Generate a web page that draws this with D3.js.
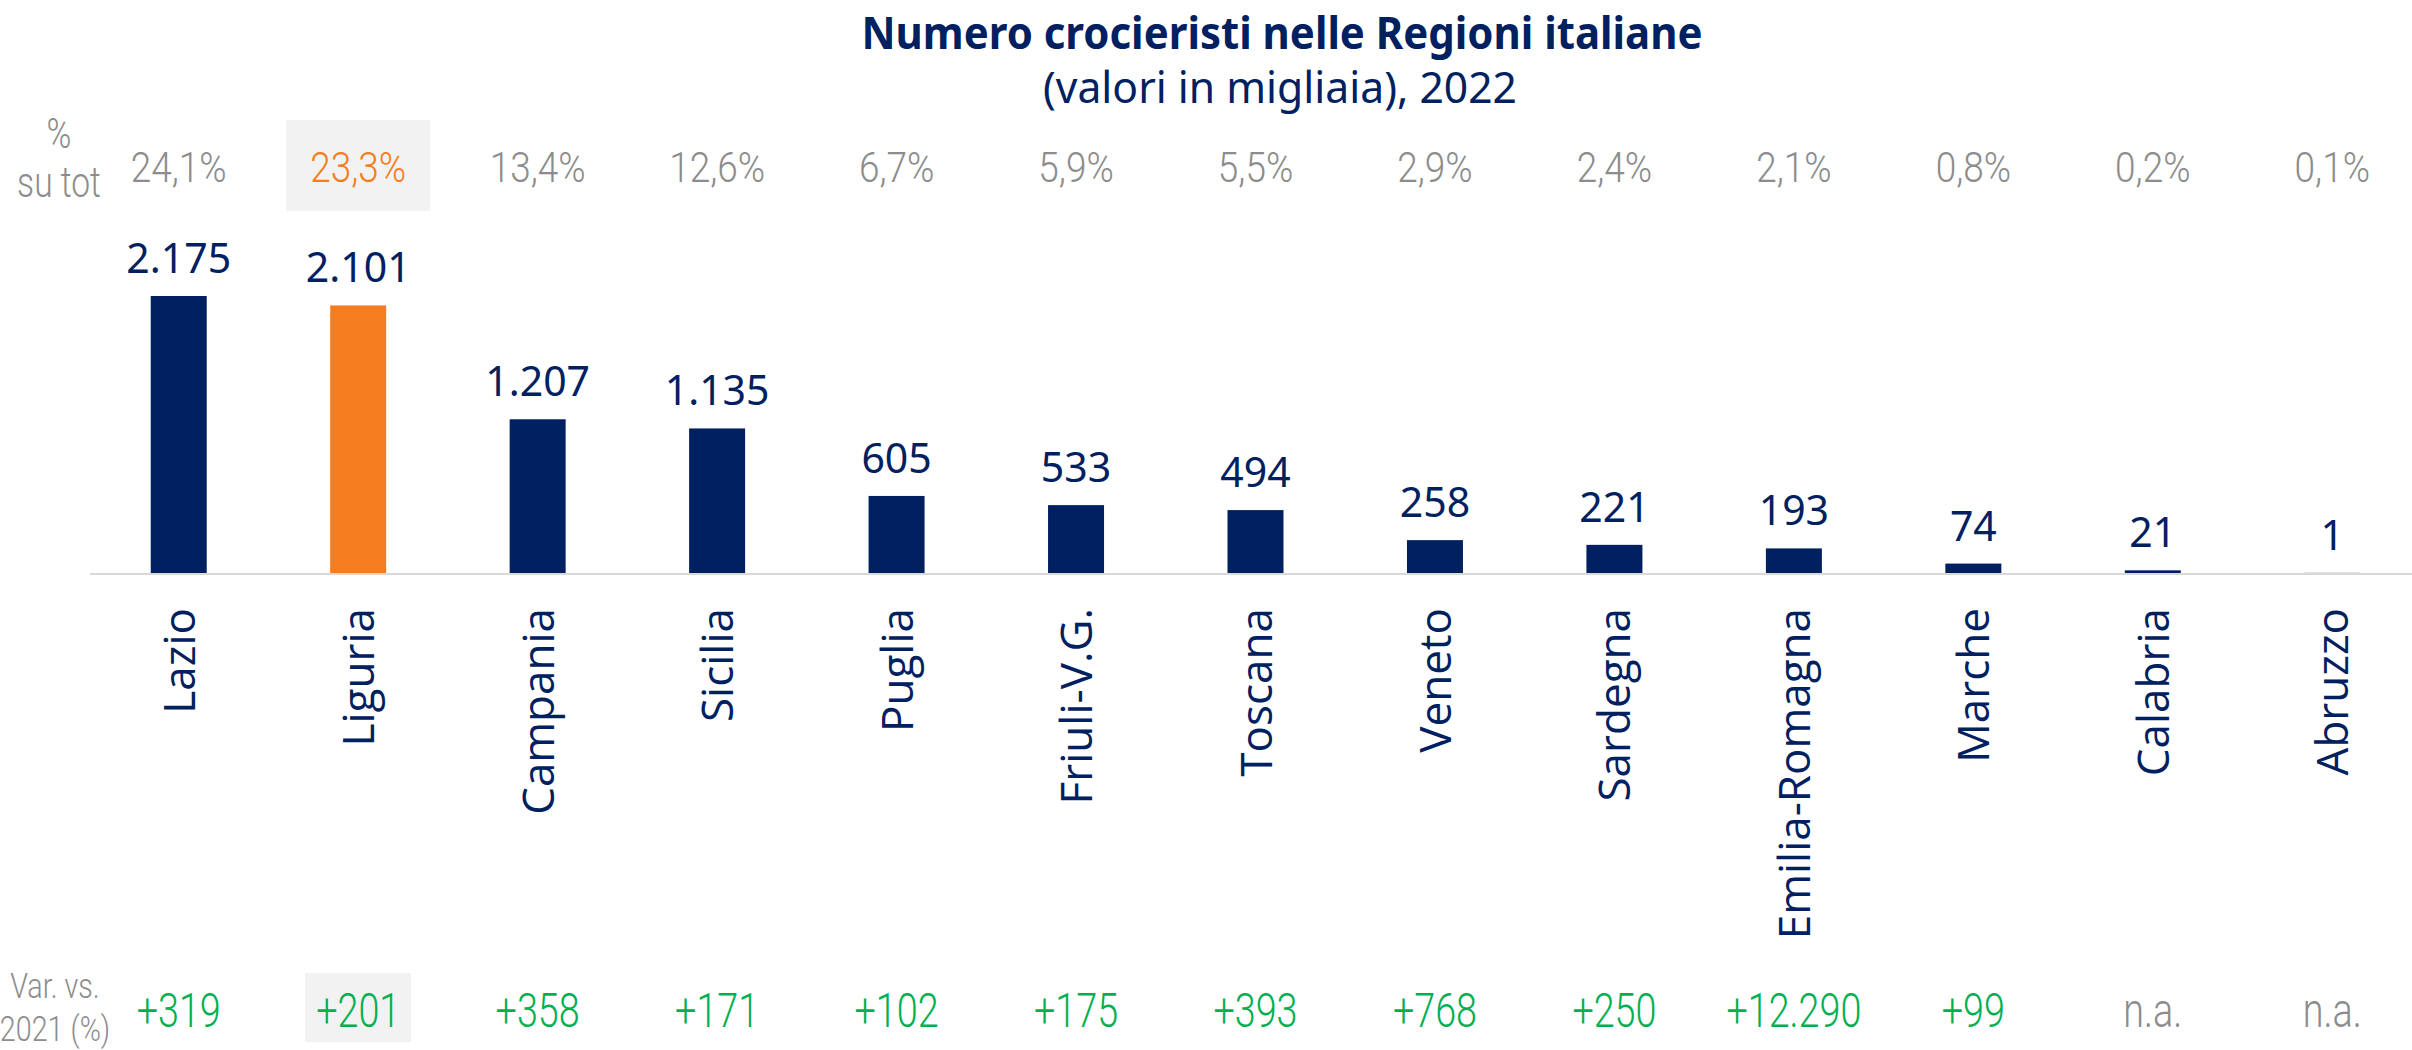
<!DOCTYPE html>
<html>
<head>
<meta charset="utf-8">
<script src="https://cdn.jsdelivr.net/npm/d3@7"></script>
<style>
  body { margin: 0; background: #fff; }
  svg { display: block; }
</style>
</head>
<body>
<svg width="2412" height="1050"></svg>
<script>
const regions = ["Lazio", "Liguria", "Campania", "Sicilia", "Puglia", "Friuli-V.G.", "Toscana",
  "Veneto", "Sardegna", "Emilia-Romagna", "Marche", "Calabria", "Abruzzo"]
const values = [2175, 2101, 1207, 1135, 605, 533, 494, 258, 221, 193, 74, 21, 1]
const shares = ["24,1%", "23,3%", "13,4%", "12,6%", "6,7%", "5,9%", "5,5%", "2,9%", "2,4%", "2,1%", "0,8%", "0,2%", "0,1%"]
const changes = ["+319", "+201", "+358", "+171", "+102", "+175", "+393", "+768", "+250", "+12.290", "+99", "n.a.", "n.a."]
const highlight = "Liguria"

const navy = "#002060", orange = "#f47d20", grey = "#8c8c8c", green = "#00b050"

const it = d3.formatLocale({decimal: ",", thousands: ".", grouping: [3], currency: ["", " €"]})
const fmt = it.format(",d")

const data = regions.map((r, i) => ({region: r, value: values[i], share: shares[i], change: changes[i]}))

const svg = d3.select("svg")

const x = d3.scaleBand()
  .domain(regions)
  .range([89, 2422])
  .paddingInner(0.688)
  .paddingOuter(0.344)

const y = d3.scaleLinear()
  .domain([0, d3.max(values)])
  .range([573, 296])

const cx = d => x(d.region) + x.bandwidth() / 2

// title
svg.append("text")
    .attr("x", 1282).attr("y", 49)
    .attr("text-anchor", "middle")
    .attr("font-family", "Noto Sans").attr("font-weight", 700)
    .attr("font-size", 45).attr("fill", navy)
    .attr("textLength", 841).attr("lengthAdjust", "spacingAndGlyphs")
    .text("Numero crocieristi nelle Regioni italiane")

svg.append("text")
    .attr("x", 1280).attr("y", 103)
    .attr("text-anchor", "middle")
    .attr("font-family", "Noto Sans")
    .attr("font-size", 43).attr("fill", navy)
    .attr("textLength", 474).attr("lengthAdjust", "spacingAndGlyphs")
    .text("(valori in migliaia), 2022")

// highlight boxes
const hl = data.filter(d => d.region === highlight)
svg.selectAll(".hlTop").data(hl).enter().append("rect")
    .attr("x", d => cx(d) - 72).attr("y", 120)
    .attr("width", 144).attr("height", 91)
    .attr("fill", "#f2f2f2")
svg.selectAll(".hlBot").data(hl).enter().append("rect")
    .attr("x", d => cx(d) - 53).attr("y", 973)
    .attr("width", 106).attr("height", 69)
    .attr("fill", "#f2f2f2")

// light condensed labels
function light(sel, size) {
  sel.attr("font-family", "Roboto").attr("font-weight", 300)
    .attr("font-size", size)
    .attr("text-anchor", "middle")
}

// left side headers
let hdr = svg.append("g")
hdr.append("text").attr("transform", "translate(59,148) scale(0.8,1)").call(light, 42).attr("fill", grey).text("%")
hdr.append("text").attr("transform", "translate(59,197) scale(0.8,1)").call(light, 42).attr("fill", grey).text("su tot")
hdr.append("text").attr("transform", "translate(55,998) scale(0.82,1)").call(light, 35).attr("fill", grey).text("Var. vs.")
hdr.append("text").attr("transform", "translate(55,1041) scale(0.82,1)").call(light, 35).attr("fill", grey).text("2021 (%)")

// share row
svg.append("g").selectAll("text")
  .data(data).enter().append("text")
    .attr("transform", d => `translate(${cx(d)},182) scale(0.88,1)`)
    .call(light, 42)
    .attr("fill", d => d.region === highlight ? orange : grey)
    .text(d => d.share)

// change row
svg.append("g").selectAll("text")
  .data(data).enter().append("text")
    .attr("transform", d => `translate(${cx(d)},1027) scale(0.77,1)`)
    .call(light, 49)
    .attr("fill", d => d.change === "n.a." ? grey : green)
    .text(d => d.change)

// baseline
svg.append("line")
    .attr("x1", 90).attr("x2", 2412)
    .attr("y1", y(0) + 1).attr("y2", y(0) + 1)
    .attr("stroke", "#d9d9d9").attr("stroke-width", 2)

// bars
svg.append("g").selectAll("rect")
  .data(data).enter().append("rect")
    .attr("x", d => x(d.region))
    .attr("y", d => y(d.value))
    .attr("width", x.bandwidth())
    .attr("height", d => y(0) - y(d.value))
    .attr("fill", d => d.region === highlight ? orange : navy)

// value labels
svg.append("g").selectAll("text")
  .data(data).enter().append("text")
    .attr("x", cx)
    .attr("y", d => y(d.value) - 23)
    .attr("text-anchor", "middle")
    .attr("font-family", "Noto Sans")
    .attr("font-size", 41)
    .attr("fill", navy)
    .text(d => fmt(d.value))

// category labels
svg.append("g").selectAll("text")
  .data(data).enter().append("text")
    .attr("transform", d => `translate(${cx(d) + 16},608) rotate(-90)`)
    .attr("text-anchor", "end")
    .attr("font-family", "Open Sans")
    .attr("font-size", 44)
    .attr("fill", navy)
    .text(d => d.region)
</script>
</body>
</html>
